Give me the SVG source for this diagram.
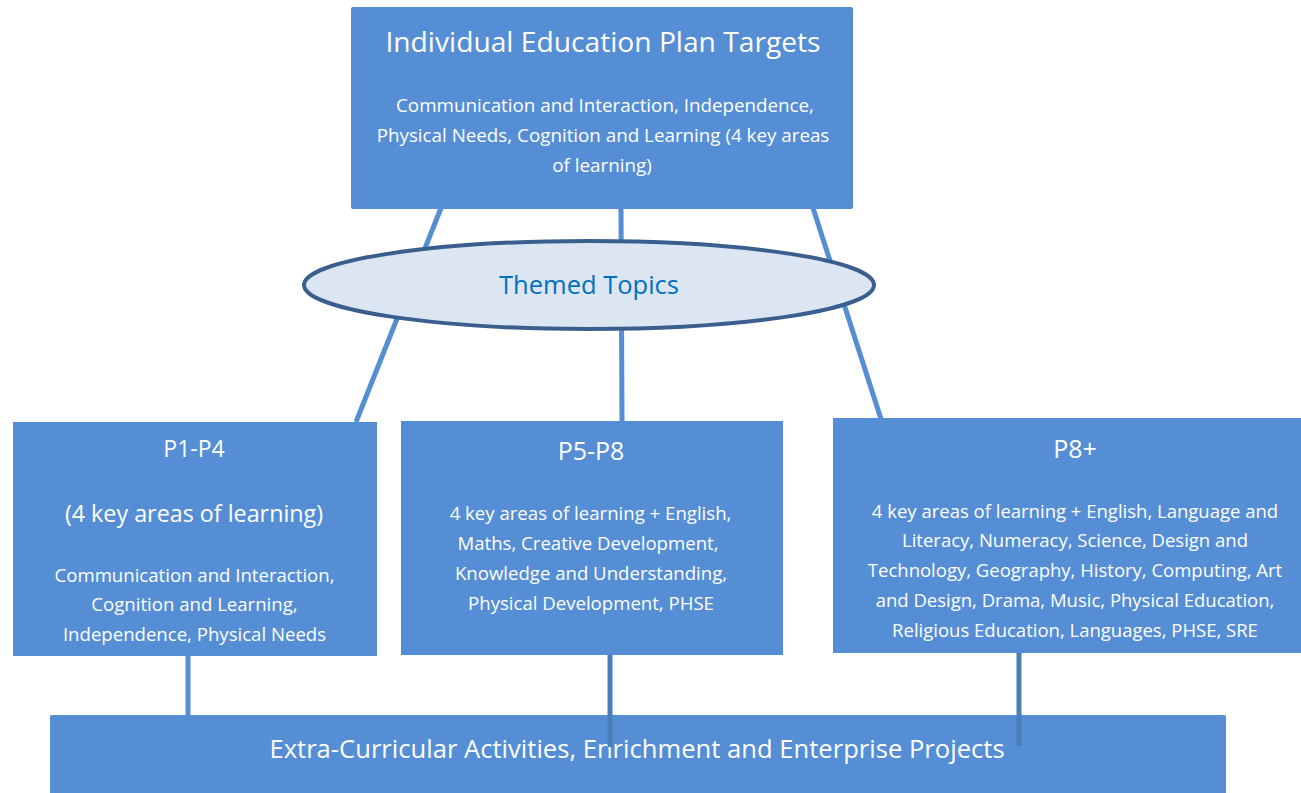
<svg xmlns="http://www.w3.org/2000/svg" width="1301" height="793" viewBox="0 0 1301 793">
<style>
.box{fill:#558ed5;}
.t{font-family:"Open Sans","Liberation Sans",Arial,sans-serif;fill:#ffffff;text-anchor:middle;}
.c1{stroke:#558ed5;stroke-width:5;fill:none;}
.c2{stroke:#4a7ebb;stroke-width:5;fill:none;}
</style>
<rect width="1301" height="793" fill="#ffffff"/>
<g id="connectors">
<line class="c1" x1="441" y1="208" x2="356" y2="422"/>
<line class="c1" x1="621" y1="208" x2="622" y2="421"/>
<line class="c1" x1="813" y1="208" x2="881" y2="419"/>
<line class="c1" x1="188" y1="655" x2="188" y2="716"/>
</g>
<g id="top">
<rect class="box" x="351" y="7" width="502" height="202" rx="2"/>
<text class="t" x="603" y="52" font-size="28.2">Individual Education Plan Targets</text>
<text class="t" font-size="18.8"><tspan x="605" y="112">Communication and Interaction, Independence,</tspan><tspan x="603" y="142">Physical Needs, Cognition and Learning (4 key areas</tspan><tspan x="602" y="172">of learning)</tspan></text>
</g>
<g id="themed">
<ellipse cx="589" cy="285" rx="285" ry="44" fill="#dce6f2" stroke="#3a5f8f" stroke-width="4"/>
<text x="589" y="294" font-size="25.5" fill="#0070c0" text-anchor="middle" font-family="Open Sans,Liberation Sans,Arial,sans-serif">Themed Topics</text>
</g>
<g id="p1p4">
<rect class="box" x="13" y="422" width="364" height="234"/>
<text class="t" x="194" y="457" font-size="23">P1-P4</text>
<text class="t" x="194" y="522" font-size="23.3">(4 key areas of learning)</text>
<text class="t" font-size="18.6"><tspan x="194.5" y="582">Communication and Interaction,</tspan><tspan x="194.5" y="611">Cognition and Learning,</tspan><tspan x="194.5" y="641">Independence, Physical Needs</tspan></text>
</g>
<g id="p5p8">
<rect class="box" x="401" y="421" width="382" height="234"/>
<text class="t" x="591" y="460" font-size="25">P5-P8</text>
<text class="t" font-size="18.6"><tspan x="590.5" y="520">4 key areas of learning + English,</tspan><tspan x="588" y="550">Maths, Creative Development,</tspan><tspan x="591" y="580">Knowledge and Understanding,</tspan><tspan x="591" y="610">Physical Development, PHSE</tspan></text>
</g>
<g id="p8plus">
<rect class="box" x="833" y="418" width="468" height="235"/>
<text class="t" x="1075" y="458" font-size="25">P8+</text>
<text class="t" font-size="18.5"><tspan x="1075" y="518">4 key areas of learning + English, Language and</tspan><tspan x="1075" y="547">Literacy, Numeracy, Science, Design and</tspan><tspan x="1075" y="577">Technology, Geography, History, Computing, Art</tspan><tspan x="1075" y="607">and Design, Drama, Music, Physical Education,</tspan><tspan x="1075" y="637">Religious Education, Languages, PHSE, SRE</tspan></text>
</g>
<g id="bottom">
<rect class="box" x="50" y="715" width="1176" height="90" rx="2"/>
<text class="t" x="637" y="758" font-size="25.6">Extra-Curricular Activities, Enrichment and Enterprise Projects</text>
</g>
<g id="connectors-over">
<line class="c2" x1="610" y1="655" x2="610" y2="747"/>
<line class="c2" x1="1019" y1="653" x2="1019" y2="746"/>
</g>
</svg>
